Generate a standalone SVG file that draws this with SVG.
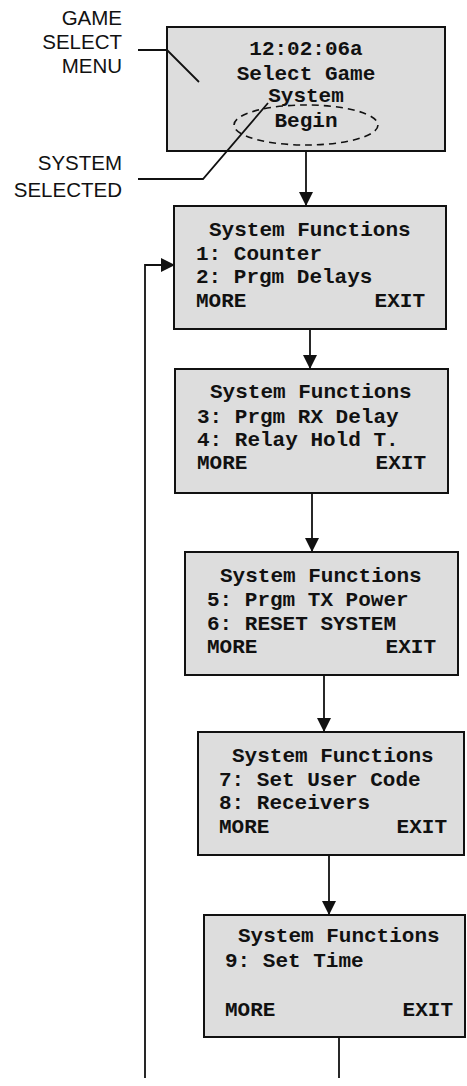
<svg xmlns="http://www.w3.org/2000/svg" width="467" height="1086" viewBox="0 0 467 1086">
<style>
.box{fill:#dddddd;stroke:#111;stroke-width:2}
.t{font-family:"Liberation Mono","Courier New",monospace;font-weight:bold;font-size:21px;fill:#111}
.c{text-anchor:middle}
.e{text-anchor:end}
.lbl{font-family:"Liberation Sans",Arial,sans-serif;font-size:20.5px;fill:#111;text-anchor:end}
.ln{fill:none;stroke:#111;stroke-width:1.8}
</style>
<defs>
<marker id="ah" markerUnits="userSpaceOnUse" markerWidth="14" markerHeight="14" refX="14" refY="7" orient="auto">
<path d="M0,0 L14,7 L0,14 z" fill="#111"/>
</marker>
</defs>
<rect width="467" height="1086" fill="#fff"/>

<g id="label-game-select-menu">
<text class="lbl" x="122" y="25">GAME</text>
<text class="lbl" x="122" y="49">SELECT</text>
<text class="lbl" x="122" y="73">MENU</text>
</g>
<g id="label-system-selected">
<text class="lbl" x="122" y="170">SYSTEM</text>
<text class="lbl" x="122" y="197">SELECTED</text>
</g>

<g id="node-select-game">
<rect class="box" x="167" y="27" width="278" height="124"/>
<text class="t c" x="306" y="55">12:02:06a</text>
<text class="t c" x="306" y="80">Select Game</text>
<text class="t c" x="306" y="102">System</text>
<text class="t c" x="306" y="127">Begin</text>
<ellipse cx="306" cy="125" rx="72" ry="20" fill="none" stroke="#111" stroke-width="1.6" stroke-dasharray="7,5"/>
</g>

<g id="node-sys1">
<rect class="box" x="174" y="206" width="272" height="123"/>
<text class="t" x="209" y="236">System Functions</text>
<text class="t" x="196" y="260">1: Counter</text>
<text class="t" x="196" y="283">2: Prgm Delays</text>
<text class="t" x="196" y="307">MORE</text>
<text class="t e" x="425" y="307">EXIT</text>
</g>

<g id="node-sys2">
<rect class="box" x="175" y="369" width="273" height="124"/>
<text class="t" x="210" y="398">System Functions</text>
<text class="t" x="197" y="423">3: Prgm RX Delay</text>
<text class="t" x="197" y="446">4: Relay Hold T.</text>
<text class="t" x="197" y="469">MORE</text>
<text class="t e" x="426" y="469">EXIT</text>
</g>

<g id="node-sys3">
<rect class="box" x="185" y="552" width="273" height="123"/>
<text class="t" x="220" y="582">System Functions</text>
<text class="t" x="207" y="606">5: Prgm TX Power</text>
<text class="t" x="207" y="630">6: RESET SYSTEM</text>
<text class="t" x="207" y="653">MORE</text>
<text class="t e" x="436" y="653">EXIT</text>
</g>

<g id="node-sys4">
<rect class="box" x="198" y="732" width="266" height="123"/>
<text class="t" x="232" y="762">System Functions</text>
<text class="t" x="219" y="786">7: Set User Code</text>
<text class="t" x="219" y="809">8: Receivers</text>
<text class="t" x="219" y="833">MORE</text>
<text class="t e" x="447" y="833">EXIT</text>
</g>

<g id="node-sys5">
<rect class="box" x="204" y="915" width="261" height="122"/>
<text class="t" x="238" y="942">System Functions</text>
<text class="t" x="225" y="967">9: Set Time</text>
<text class="t" x="225" y="1016">MORE</text>
<text class="t e" x="453" y="1016">EXIT</text>
</g>

<g id="connectors">
<polyline class="ln" points="138,50 167,50 199,82"/>
<polyline class="ln" points="138,179 203,179 268,103"/>
<line class="ln" x1="306" y1="151" x2="306" y2="206" marker-end="url(#ah)"/>
<line class="ln" x1="310" y1="329" x2="310" y2="369" marker-end="url(#ah)"/>
<line class="ln" x1="312" y1="493" x2="312" y2="552" marker-end="url(#ah)"/>
<line class="ln" x1="324" y1="675" x2="324" y2="732" marker-end="url(#ah)"/>
<line class="ln" x1="329" y1="855" x2="329" y2="915" marker-end="url(#ah)"/>
<line class="ln" x1="339" y1="1037" x2="339" y2="1078"/>
<polyline class="ln" points="145,1078 145,265 175,265" marker-end="url(#ah)"/>
</g>
</svg>
